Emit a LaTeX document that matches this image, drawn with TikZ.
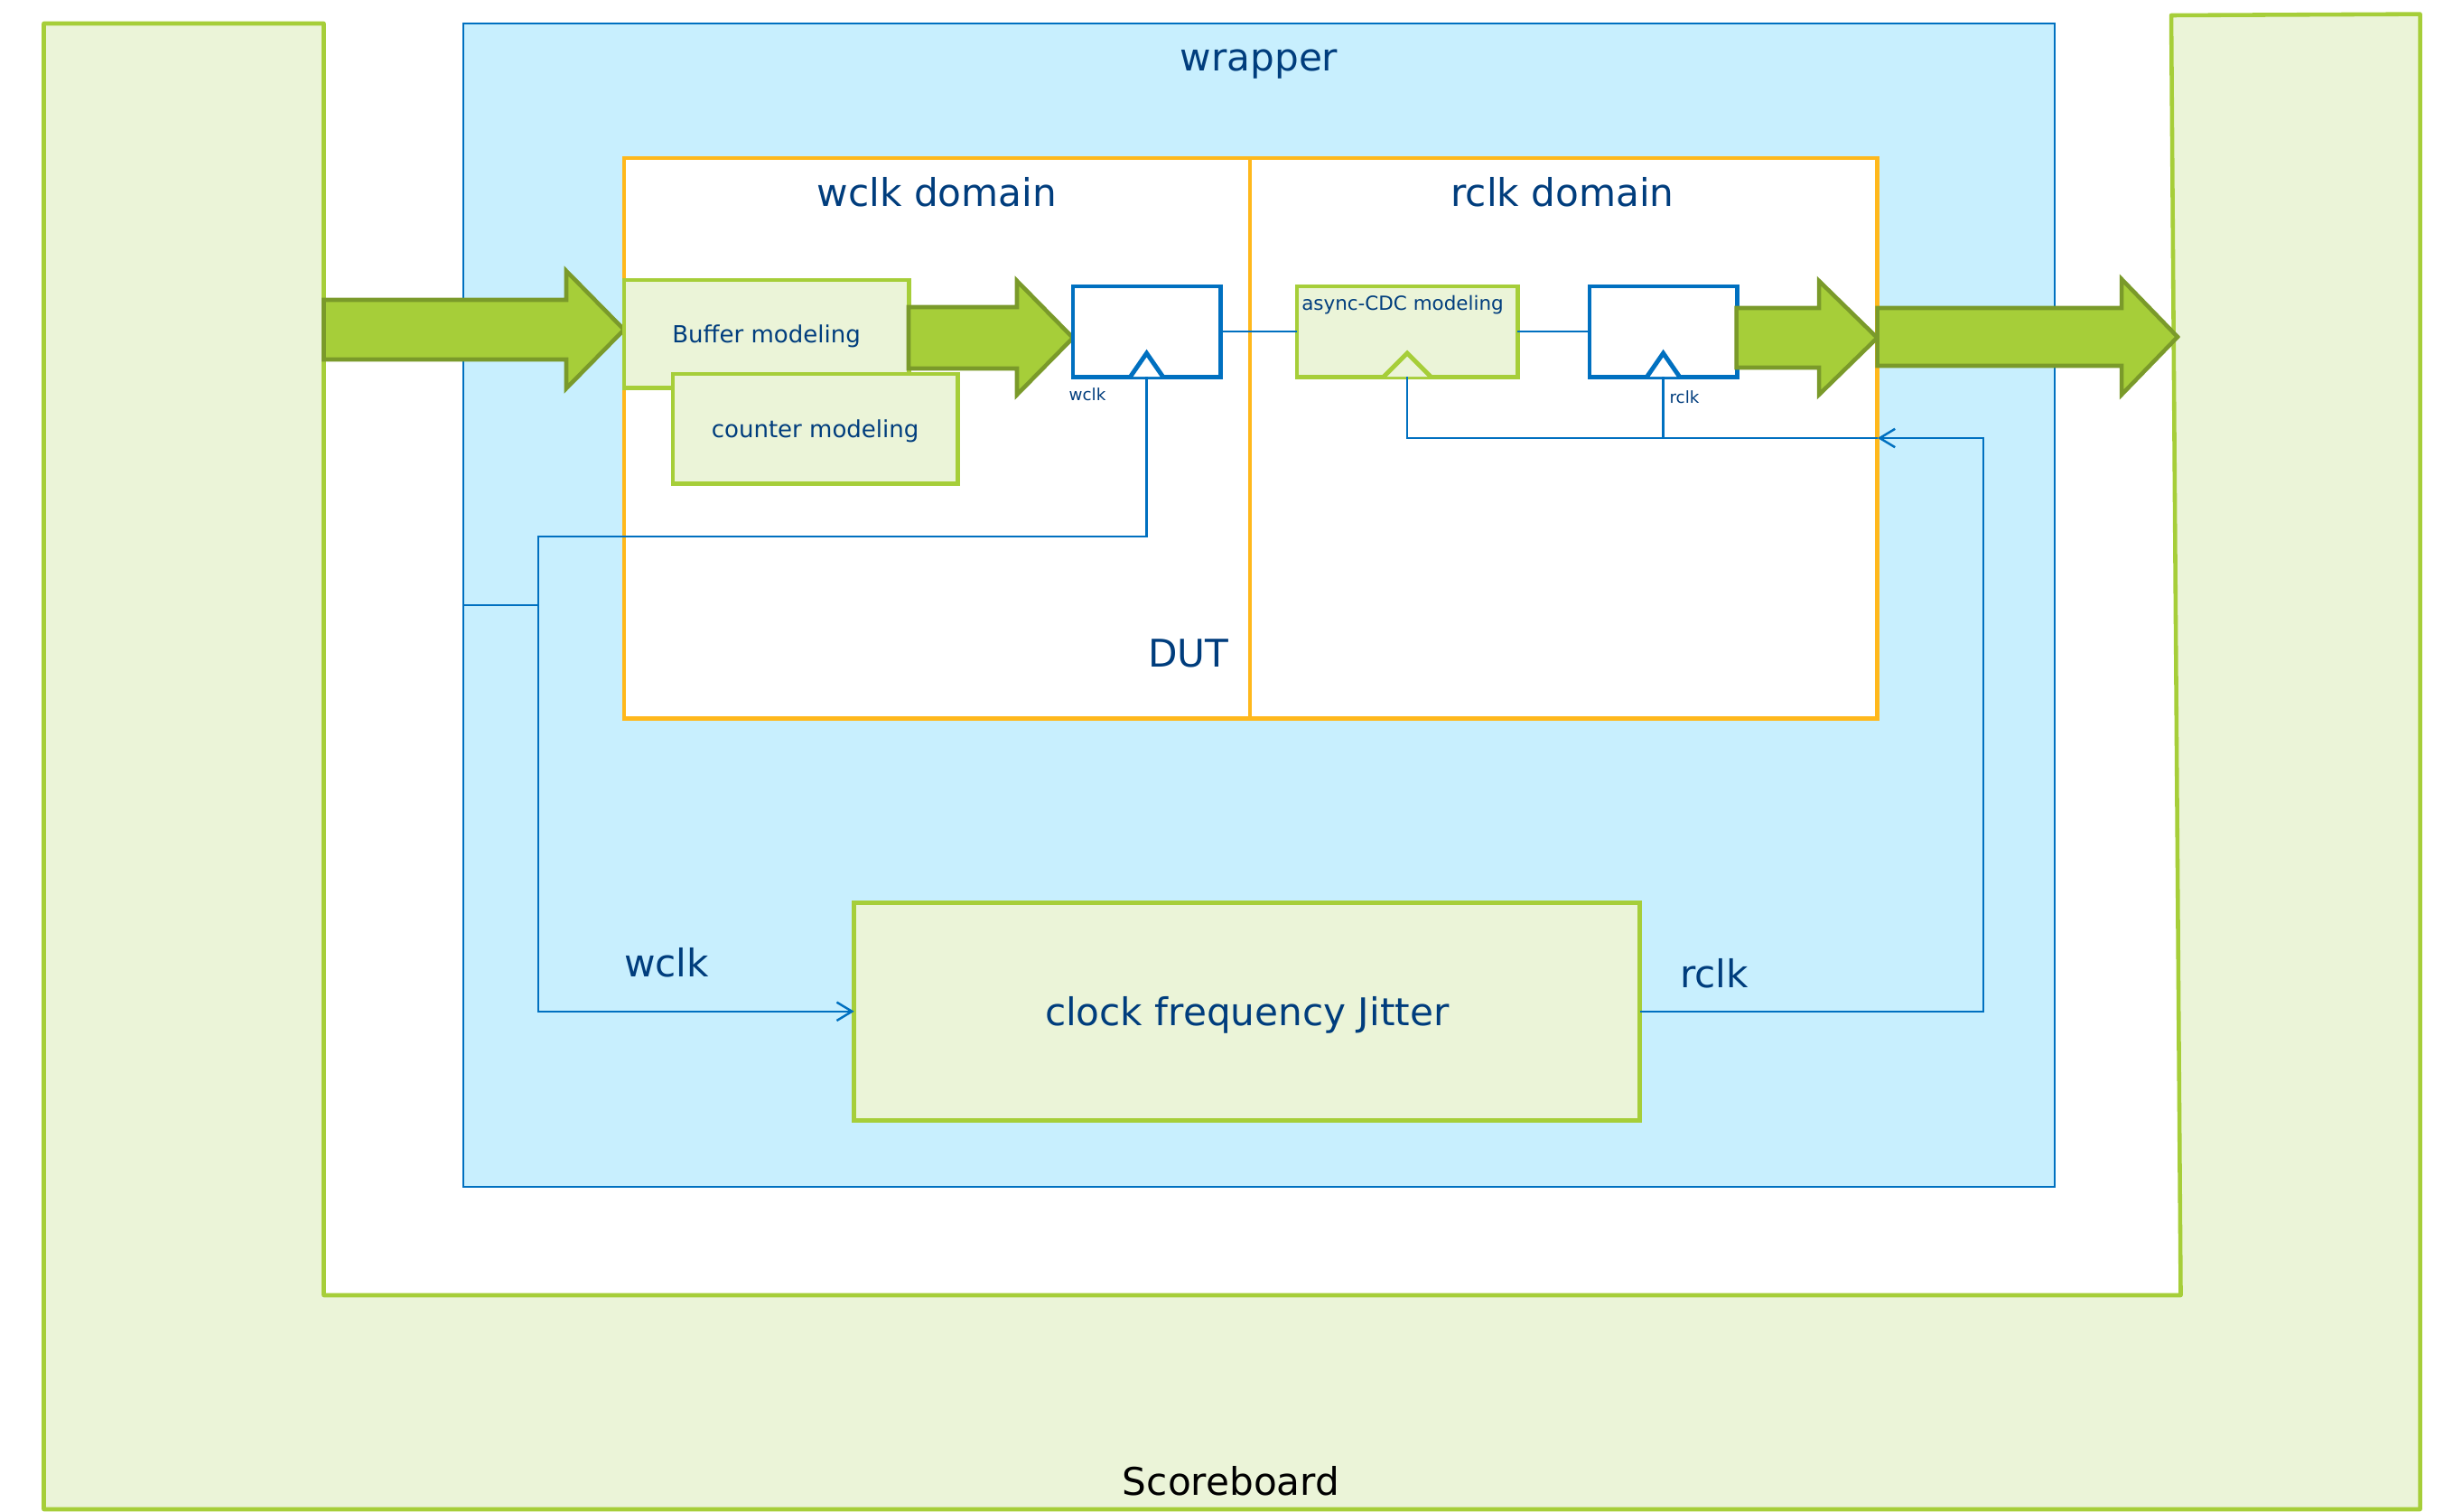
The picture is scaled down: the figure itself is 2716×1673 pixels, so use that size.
\documentclass[tikz,border=0pt]{standalone}
\usepackage{fontspec}
\setmainfont{DejaVu Sans}
\usetikzlibrary{arrows.meta}

\definecolor{txtblue}{RGB}{0,61,125}
\definecolor{lineblue}{RGB}{0,112,192}
\definecolor{wrapfill}{RGB}{200,239,254}
\definecolor{lgreen}{RGB}{166,206,57}
\definecolor{lgfill}{RGB}{235,244,216}
\definecolor{arrfill}{RGB}{166,206,57}
\definecolor{arrdraw}{RGB}{122,154,42}
\definecolor{dutorange}{RGB}{255,184,28}

\newcommand\ptsize[1]{\fontsize{#1}{#1}\selectfont}
% fat block arrow: start x, tip x, head start x, centre y, shaft half height, head half height
\newcommand\fatarrow[6]{%
  \draw[bigarrow] (#1,#4-#5) -- (#3,#4-#5) -- (#3,#4-#6) -- (#2,#4)
    -- (#3,#4+#6) -- (#3,#4+#5) -- (#1,#4+#5) -- cycle;}

\begin{document}
\begin{tikzpicture}[x=0.01cm,y=-0.01cm,
  modbox/.style={draw=lgreen, fill=lgfill, line width=1.4pt, inner sep=0pt,
                 outer sep=0pt, text=txtblue, text depth=0pt, anchor=north west},
  regbox/.style={draw=lineblue, fill=white, line width=1.4pt, inner sep=0pt,
                 outer sep=0pt, anchor=north west},
  dombox/.style={draw=dutorange, fill=white, line width=1.4pt, inner sep=0pt,
                 outer sep=0pt, anchor=north west},
  bigarrow/.style={draw=arrdraw, fill=arrfill, line width=1.3pt, line join=miter},
  wire/.style={draw=lineblue, line width=0.7pt},
  tip/.style={-{Straight Barb[length=4.8pt,width=5.8pt]}},
  lbl/.style={text=txtblue, inner sep=0pt},
  clktri/.style={line width=1.4pt, line join=miter}]

\useasboundingbox (0,0) rectangle (2716,1673);

% scoreboard frame (U shape)
\draw[draw=lgreen, fill=lgfill, line width=1.3pt, line join=round]
  (48.5,26) -- (358.5,26) -- (358.5,1434) -- (2414.5,1434) -- (2404,17)
  -- (2679.5,15.6) -- (2679.5,1671) -- (48.5,1671) -- cycle;
\node[inner sep=0pt, text=black] (sb) at (1363,1640) {\ptsize{12}Scoreboard};

% wrapper
\node[draw=lineblue, fill=wrapfill, line width=0.6pt, inner sep=0pt, outer sep=0pt,
      anchor=north west, minimum width=17.615cm, minimum height=12.87cm]
  (wrap) at (512.7,26) {};
\node[lbl] (wraplbl) at (1394,71) {\ptsize{12}wrapper};

% DUT with its two clock domains
\node[dombox, minimum width=6.93cm, minimum height=6.2cm] (dutw) at (691,175) {};
\node[dombox, minimum width=6.945cm, minimum height=6.2cm] (dutr) at (1384,175) {};
\node[lbl] (wdomlbl) at (1037.5,213) {\ptsize{12}wclk domain};
\node[lbl] (rdomlbl) at (1730,213) {\ptsize{12}rclk domain};
\node[lbl] (dutlbl) at (1316,723) {\ptsize{12}DUT};

% input arrow into the buffer
\fatarrow{358.5}{691}{627}{365}{33}{65}

% write-side models
\node[modbox, minimum width=3.15cm, minimum height=1.196cm] (buf) at (691,310)
  {\ptsize{7.4}Buffer modeling};
\node[modbox, minimum width=3.15cm, minimum height=1.21cm] (cnt) at (745,414)
  {\ptsize{7.4}counter modeling};

% buffer to write register
\fatarrow{1006}{1188}{1126}{374}{34}{63}

% registers and CDC model
\node[regbox, minimum width=1.63cm, minimum height=1.0cm] (wreg) at (1188,317) {};
\node[modbox, minimum width=2.44cm, minimum height=1.0cm] (cdc) at (1436,317) {};
\node[regbox, minimum width=1.63cm, minimum height=1.0cm] (rreg) at (1760,317) {};
\node[lbl, anchor=north] (cdclbl) at (1553,326) {\ptsize{6.1}async-CDC modeling};

% clock input triangles
\draw[clktri, draw=lineblue, fill=white]
  ([xshift=-0.18cm]wreg.south) -- ([yshift=0.26cm]wreg.south) -- ([xshift=0.18cm]wreg.south);
\draw[clktri, draw=lgreen, fill=lgfill]
  ([xshift=-0.26cm]cdc.south) -- ([yshift=0.26cm]cdc.south) -- ([xshift=0.26cm]cdc.south);
\draw[clktri, draw=lineblue, fill=white]
  ([xshift=-0.18cm]rreg.south) -- ([yshift=0.26cm]rreg.south) -- ([xshift=0.18cm]rreg.south);
\node[lbl] (wclksm) at (1204,436.5) {\ptsize{5.2}wclk};
\node[lbl] (rclksm) at (1865,440) {\ptsize{5.2}rclk};

% data path wires
\draw[wire] (wreg.east) -- (cdc.west);
\draw[wire] (cdc.east) -- (rreg.west);

% read side arrows
\fatarrow{1922.6}{2078.5}{2014}{374}{33}{63}
\fatarrow{2078.5}{2411}{2349}{373}{32}{64}

% clock jitter block
\node[modbox, minimum width=8.695cm, minimum height=2.406cm] (jit) at (945.7,999.4)
  {\ptsize{12}clock frequency Jitter};
\node[lbl] (wclklbl) at (738,1066) {\ptsize{12}wclk};
\node[lbl] (rclklbl) at (1898,1078) {\ptsize{12}rclk};

% clock nets
\coordinate (wy) at (0,594);
\coordinate (wx) at (596,0);
\coordinate (stub) at (0,670);
\coordinate (rx) at (2196,0);
\coordinate (ry) at (0,485);
\draw[wire, tip] (wreg.south) -- (wreg.south |- wy) -- (wx |- wy)
  -- (wx |- jit.west) -- (jit.west);
\draw[wire] (wrap.west |- stub) -- (wx |- stub);
\draw[wire, tip] (jit.east) -- (rx |- jit.east) -- (rx |- ry) -- (dutr.east |- ry);
\draw[wire] (dutr.east |- ry) -- (cdc.south |- ry) -- (cdc.south);
\draw[wire] (rreg.south |- ry) -- (rreg.south);
\end{tikzpicture}
\end{document}
